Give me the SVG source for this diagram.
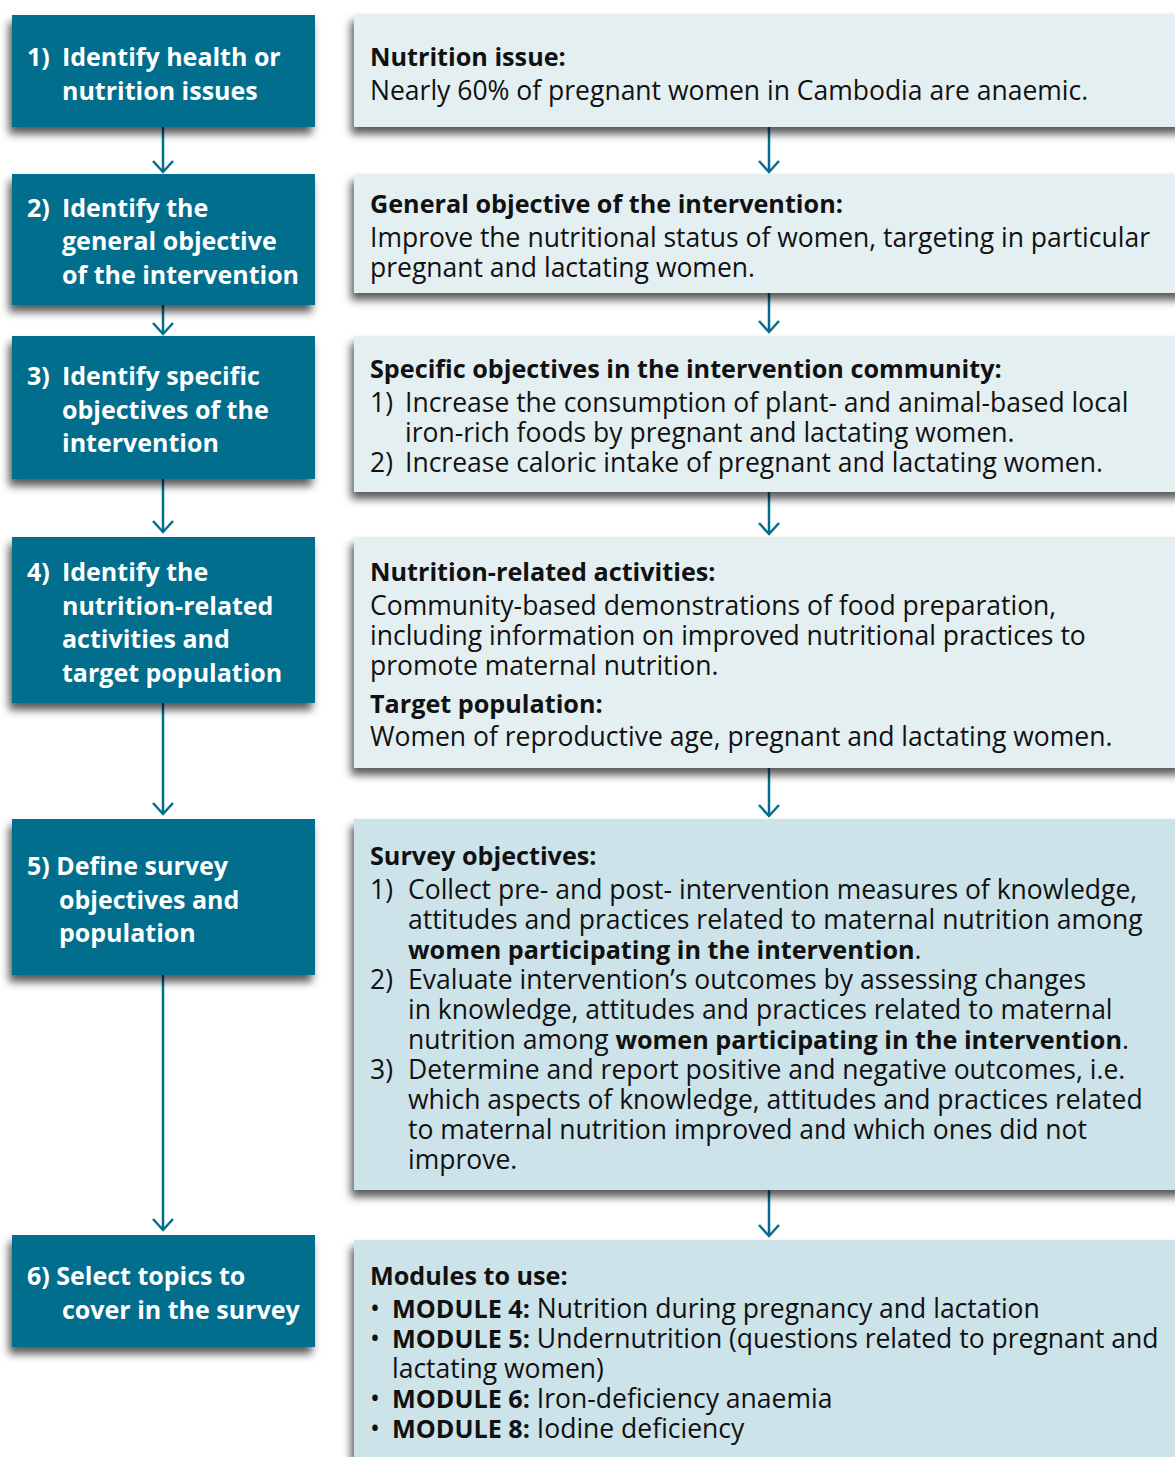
<svg xmlns="http://www.w3.org/2000/svg" width="1175" height="1457" viewBox="0 0 1175 1457">
<defs>
<filter id="sh" x="-10%" y="-20%" width="120%" height="150%">
<feDropShadow dx="-3" dy="7" stdDeviation="4" flood-color="#000" flood-opacity="0.65"/>
</filter>
</defs>
<style>
.lb{fill:#026e8c;filter:url(#sh)}
.rb1{fill:#e4eff2;filter:url(#sh)}
.rb2{fill:#cde3ea;filter:url(#sh)}
.lt{font-family:"Open Sans","Noto Sans",sans-serif;font-weight:bold;font-size:25px;fill:#fff}
.rt{font-family:"Open Sans","Noto Sans",sans-serif;font-size:26.5px;fill:#111}
.rh{font-weight:bold;font-size:25.2px}
.con line,.con polyline{stroke:#026e8c;stroke-width:2.5;fill:none}
</style>
<rect width="1175" height="1457" fill="#fff"/>
<g class="con">
<line x1="163" y1="127" x2="163" y2="172"/><polyline points="153,161 163,172 173,161"/>
<line x1="163" y1="305" x2="163" y2="334"/><polyline points="153,323 163,334 173,323"/>
<line x1="163" y1="479" x2="163" y2="532"/><polyline points="153,521 163,532 173,521"/>
<line x1="163" y1="703" x2="163" y2="814"/><polyline points="153,803 163,814 173,803"/>
<line x1="163" y1="975" x2="163" y2="1230"/><polyline points="153,1219 163,1230 173,1219"/>
<line x1="769" y1="127" x2="769" y2="172"/><polyline points="759,161 769,172 779,161"/>
<line x1="769" y1="293" x2="769" y2="332"/><polyline points="759,321 769,332 779,321"/>
<line x1="769" y1="492" x2="769" y2="534"/><polyline points="759,523 769,534 779,523"/>
<line x1="769" y1="768" x2="769" y2="816"/><polyline points="759,805 769,816 779,805"/>
<line x1="769" y1="1190" x2="769" y2="1236"/><polyline points="759,1225 769,1236 779,1225"/>
</g>
<g id="n1"><rect class="lb" x="12" y="15" width="303" height="112"/>
<text class="lt"><tspan x="27" y="66">1)</tspan><tspan x="62" y="66">Identify health or</tspan><tspan x="62" y="100">nutrition issues</tspan></text></g>
<g id="n2"><rect class="lb" x="12" y="174" width="303" height="131"/>
<text class="lt"><tspan x="27" y="217">2)</tspan><tspan x="62" y="217">Identify the</tspan><tspan x="62" y="250">general objective</tspan><tspan x="62" y="284">of the intervention</tspan></text></g>
<g id="n3"><rect class="lb" x="12" y="336" width="303" height="143"/>
<text class="lt"><tspan x="27" y="385">3)</tspan><tspan x="62" y="385">Identify specific</tspan><tspan x="62" y="419">objectives of the</tspan><tspan x="62" y="452">intervention</tspan></text></g>
<g id="n4"><rect class="lb" x="12" y="537" width="303" height="166"/>
<text class="lt"><tspan x="27" y="581">4)</tspan><tspan x="62" y="581">Identify the</tspan><tspan x="62" y="615">nutrition-related</tspan><tspan x="62" y="648">activities and</tspan><tspan x="62" y="682">target population</tspan></text></g>
<g id="n5"><rect class="lb" x="12" y="819" width="303" height="156"/>
<text class="lt"><tspan x="27" y="875">5) Define survey</tspan><tspan x="59" y="909">objectives and</tspan><tspan x="59" y="942">population</tspan></text></g>
<g id="n6"><rect class="lb" x="12" y="1235" width="303" height="112"/>
<text class="lt"><tspan x="27" y="1285">6) Select topics to</tspan><tspan x="62" y="1319">cover in the survey</tspan></text></g>
<g id="r1"><rect class="rb1" x="354" y="14" width="830" height="113"/>
<text class="rt"><tspan class="rh" x="370" y="66">Nutrition issue:</tspan><tspan x="370" y="100">Nearly 60% of pregnant women in Cambodia are anaemic.</tspan></text></g>
<g id="r2"><rect class="rb1" x="354" y="174" width="830" height="119"/>
<text class="rt"><tspan class="rh" x="370" y="213">General objective of the intervention:</tspan><tspan x="370" y="247">Improve the nutritional status of women, targeting in particular</tspan><tspan x="370" y="277">pregnant and lactating women.</tspan></text></g>
<g id="r3"><rect class="rb1" x="354" y="336" width="830" height="156"/>
<text class="rt"><tspan class="rh" x="370" y="378">Specific objectives in the intervention community:</tspan><tspan x="370" y="412">1)</tspan><tspan x="405" y="412">Increase the consumption of plant- and animal-based local</tspan><tspan x="405" y="442">iron-rich foods by pregnant and lactating women.</tspan><tspan x="370" y="472">2)</tspan><tspan x="405" y="472">Increase caloric intake of pregnant and lactating women.</tspan></text></g>
<g id="r4"><rect class="rb1" x="354" y="537" width="830" height="231"/>
<text class="rt"><tspan class="rh" x="370" y="581">Nutrition-related activities:</tspan><tspan x="370" y="615">Community-based demonstrations of food preparation,</tspan><tspan x="370" y="645">including information on improved nutritional practices to</tspan><tspan x="370" y="675">promote maternal nutrition.</tspan><tspan class="rh" x="370" y="713">Target population:</tspan><tspan x="370" y="746">Women of reproductive age, pregnant and lactating women.</tspan></text></g>
<g id="r5"><rect class="rb2" x="354" y="819" width="830" height="371"/>
<text class="rt"><tspan class="rh" x="370" y="865">Survey objectives:</tspan><tspan x="370" y="899">1)</tspan><tspan x="408" y="899">Collect pre- and post- intervention measures of knowledge,</tspan><tspan x="408" y="929">attitudes and practices related to maternal nutrition among</tspan><tspan class="rh" x="408" y="959">women participating in the intervention</tspan><tspan>.</tspan><tspan x="370" y="989">2)</tspan><tspan x="408" y="989">Evaluate intervention’s outcomes by assessing changes</tspan><tspan x="408" y="1019">in knowledge, attitudes and practices related to maternal</tspan><tspan x="408" y="1049">nutrition among </tspan><tspan class="rh">women participating in the intervention</tspan><tspan>.</tspan><tspan x="370" y="1079">3)</tspan><tspan x="408" y="1079">Determine and report positive and negative outcomes, i.e.</tspan><tspan x="408" y="1109">which aspects of knowledge, attitudes and practices related</tspan><tspan x="408" y="1139">to maternal nutrition improved and which ones did not</tspan><tspan x="408" y="1169">improve.</tspan></text></g>
<g id="r6"><rect class="rb2" x="354" y="1240" width="830" height="230"/>
<text class="rt"><tspan class="rh" x="370" y="1285">Modules to use:</tspan><tspan x="370" y="1318">•</tspan><tspan class="rh" x="392" y="1318">MODULE 4:</tspan><tspan> Nutrition during pregnancy and lactation</tspan><tspan x="370" y="1348">•</tspan><tspan class="rh" x="392" y="1348">MODULE 5:</tspan><tspan> Undernutrition (questions related to pregnant and</tspan><tspan x="392" y="1378">lactating women)</tspan><tspan x="370" y="1408">•</tspan><tspan class="rh" x="392" y="1408">MODULE 6:</tspan><tspan> Iron-deficiency anaemia</tspan><tspan x="370" y="1438">•</tspan><tspan class="rh" x="392" y="1438">MODULE 8:</tspan><tspan> Iodine deficiency</tspan></text></g>
</svg>
